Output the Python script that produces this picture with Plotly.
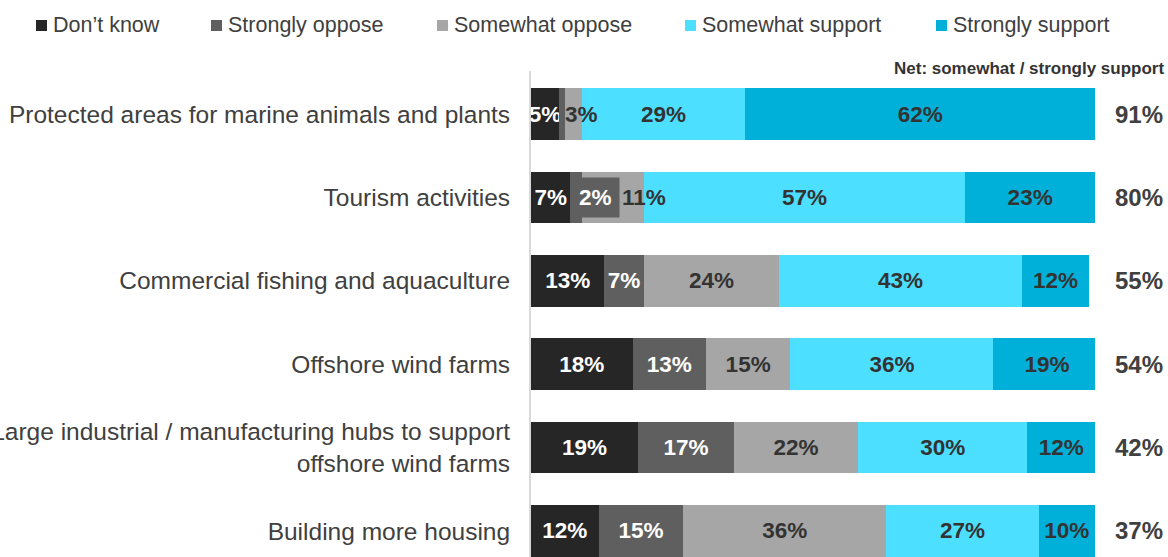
import plotly.graph_objects as go

# ---------------- data ----------------
categories = [
    "Protected areas for marine animals and plants",
    "Tourism activities",
    "Commercial fishing and aquaculture",
    "Offshore wind farms",
    "Large industrial / manufacturing hubs to support<br>offshore wind farms",
    "Building more housing",
]
series_names = ["Don\u2019t know", "Strongly oppose", "Somewhat oppose",
                "Somewhat support", "Strongly support"]
dont_know = [5, 7, 13, 18, 19, 12]
strongly_oppose = [1, 2, 7, 13, 17, 15]
somewhat_oppose = [3, 11, 24, 15, 22, 36]
somewhat_support = [29, 57, 43, 36, 30, 27]
strongly_support = [62, 23, 12, 19, 12, 10]
net_support = [91, 80, 55, 54, 42, 37]
net_title = "Net: somewhat / strongly support"

# ---------------- styles ----------------
colors = ["#262626", "#5f5f5f", "#a6a6a6", "#4ddfff", "#00b0d8"]
text_colors = ["#ffffff", "#ffffff", "#333333", "#333333", "#333333"]
FONT = "Liberation Sans, Arial, sans-serif"
series_values = [dont_know, strongly_oppose, somewhat_oppose,
                 somewhat_support, strongly_support]

# (row, series) labels that are drawn off-centre because the segment is small
moved_labels = {(0, 2), (1, 1), (1, 2)}

W, H = 1168, 557
L, R, T, B = 531, 73, 71, 0
pw, ph = W - L - R, H - T - B
LABEL_SIZE = 22.5

fig = go.Figure()
for s, (name, vals) in enumerate(zip(series_names, series_values)):
    labels = []
    for r, v in enumerate(vals):
        if v < 2 or (r, s) in moved_labels:
            labels.append("")
        else:
            labels.append(f"{v}%")
    fig.add_trace(go.Bar(
        y=categories, x=vals, name=name, orientation="h",
        marker=dict(color=colors[s], line=dict(width=0)),
        width=0.62,
        text=labels, texttemplate="%{text}",
        textposition="inside", insidetextanchor="middle",
        constraintext="none", textangle=0,
        insidetextfont=dict(family=FONT, size=LABEL_SIZE, color=text_colors[s],
                            weight="bold"),
        cliponaxis=True, showlegend=False, hoverinfo="skip",
    ))

annotations = []
# Row 0: "3%" starts right after the dark segments
r = 0
annotations.append(dict(
    x=dont_know[r] + strongly_oppose[r], y=categories[r], xref="x", yref="y",
    text=f"<b>{somewhat_oppose[r]}%</b>", showarrow=False, xanchor="left",
    xshift=-2,
    font=dict(family=FONT, size=LABEL_SIZE, color=text_colors[2]),
))
# Row 1: "11%" centred on the end of its segment, "2%" boxed to its left
r = 1
end_so = dont_know[r] + strongly_oppose[r] + somewhat_oppose[r]
annotations.append(dict(
    x=end_so, y=categories[r], xref="x", yref="y",
    text=f"<b>{somewhat_oppose[r]}%</b>", showarrow=False, xanchor="center",
    font=dict(family=FONT, size=LABEL_SIZE, color=text_colors[2]),
))
annotations.append(dict(
    x=end_so, y=categories[r], xref="x", yref="y",
    text=f"<b>{strongly_oppose[r]}%</b>", showarrow=False, xanchor="right",
    xshift=-24, bgcolor=colors[1], borderpad=7,
    font=dict(family=FONT, size=LABEL_SIZE, color=text_colors[1]),
))

# net column
for c, n in zip(categories, net_support):
    annotations.append(dict(
        x=(1139 - L) / pw, y=c, xref="paper", yref="y",
        text=f"<b>{n}%</b>", showarrow=False, xanchor="center",
        font=dict(family=FONT, size=24, color="#404040"),
    ))
annotations.append(dict(
    x=(1166 - L) / pw, y=(H - 69) / ph, xref="paper", yref="paper",
    text=f"<b>{net_title}</b>", showarrow=False, xanchor="right",
    yanchor="middle", font=dict(family=FONT, size=17, color="#333333"),
))

# legend (markers + text)
legend_text_x = [51, 226, 452, 700, 951]
legend_y = 25
shapes = []
for name, col, tx in zip(series_names, colors, legend_text_x):
    annotations.append(dict(
        x=(tx - L) / pw, y=(H - legend_y) / ph, xref="paper", yref="paper",
        text=name, showarrow=False, xanchor="left", yanchor="middle",
        font=dict(family=FONT, size=21.5, color="#404040"),
    ))
    shapes.append(dict(
        type="rect", xref="paper", yref="paper",
        x0=(tx - 15 - L) / pw, x1=(tx - 4 - L) / pw,
        y0=(H - legend_y - 6) / ph, y1=(H - legend_y + 5) / ph,
        fillcolor=col, line=dict(width=0),
    ))

fig.update_layout(
    barmode="stack",
    width=W, height=H,
    margin=dict(l=L, r=R, t=T, b=B, pad=0),
    paper_bgcolor="white", plot_bgcolor="white",
    font=dict(family=FONT, color="#404040"),
    annotations=annotations, shapes=shapes,
    showlegend=False,
)
fig.update_xaxes(range=[0, 100], visible=False, fixedrange=True)
fig.update_yaxes(
    type="category", categoryorder="array", categoryarray=categories,
    range=[5.312, -0.516], showgrid=False, zeroline=False,
    showline=True, linecolor="#d9d9d9", linewidth=2,
    ticks="", ticklabelstandoff=14, automargin=False,
    tickfont=dict(family=FONT, size=24.5, color="#404040"),
)

fig.write_html("out.html")
